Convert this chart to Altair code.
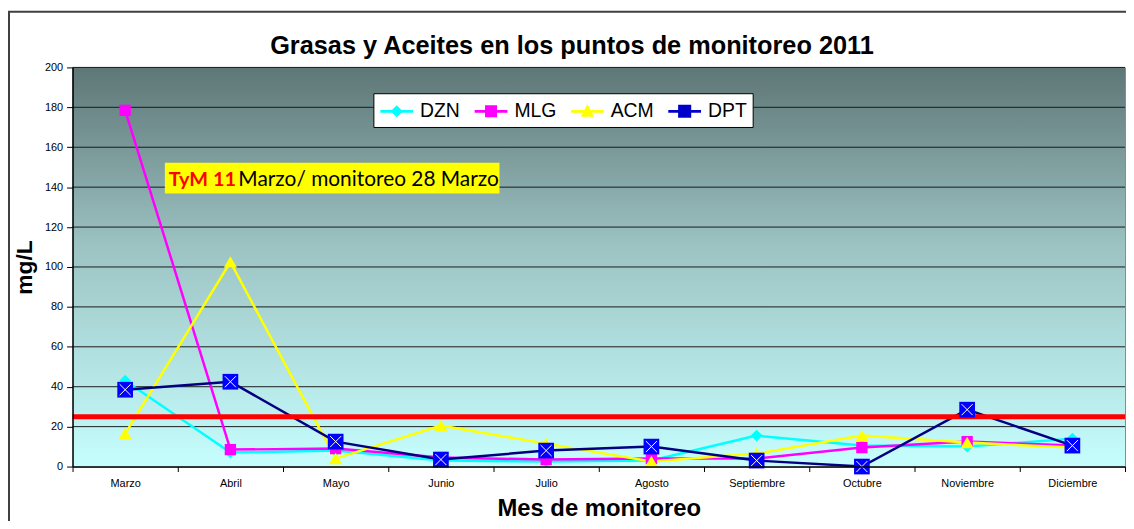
import altair as alt
import pandas as pd

# ---------------- data ----------------
months = ["Marzo", "Abril", "Mayo", "Junio", "Julio", "Agosto",
          "Septiembre", "Octubre", "Noviembre", "Diciembre"]
series_names = ["DZN", "MLG", "ACM", "DPT"]
dzn = [43, 7, 8, 3, 2.5, 3, 15.5, 10.5, 10, 14]
mlg = [178.5, 8.5, 9, 4.5, 3.5, 4, 4, 9.5, 12.5, 10.5]
acm = [16.5, 102.5, 4, 20.5, 11.5, 2.5, 6.5, 15.5, 12, 9.5]
dpt = [38.5, 42.5, 12.5, 3.5, 8, 10, 3, 0, 28.5, 10.5]
limit_value = [25]

y_ticks = list(range(0, 201, 20))
title_text = "Grasas y Aceites en los puntos de monitoreo 2011"
note_bold = "TyM 11"
note_rest = "Marzo/ monitoreo 28 Marzo"

# ---------------- styles ----------------
line_colors = ["#00FFFF", "#FF00FF", "#FFFF00", "#000080"]
marker_fills = ["#00FFFF", "#FF00FF", "#FFFF00", "#0000FF"]
legend_colors = ["#00FFFF", "#FF00FF", "#FFFF00", "#0000C8"]
marker_shapes = ["diamond", "square", "triangle-up", "square"]
marker_sizes = [140, 130, 180, 250]

LINE = "M-1,-0.13L2,-0.13L2,0.13L-1,0.13Z"
legend_paths = [
    LINE + "M0.5,-0.55L1.05,0L0.5,0.55L-0.05,0Z",
    LINE + "M-0.05,-0.55L1.05,-0.55L1.05,0.55L-0.05,0.55Z",
    LINE + "M0.5,-0.65L1.1,0.5L-0.1,0.5Z",
    LINE + "M-0.1,-0.6L1.1,-0.6L1.1,0.6L-0.1,0.6Z",
]

W, H = 1060, 402

rows = []
for name, vals in zip(series_names, [dzn, mlg, acm, dpt]):
    for m, v in zip(months, vals):
        rows.append({"Mes": m, "Serie": name, "Valor": v})
df = pd.DataFrame(rows)
one = pd.DataFrame({"k": [0]})

x_enc = alt.X(
    "Mes:N", sort=months, bandPosition=0.5,
    scale=alt.Scale(type="band", domain=months, paddingInner=0, paddingOuter=0),
    axis=alt.Axis(title="Mes de monitoreo", labelAngle=0, tickBand="extent",
                  labelFont="Liberation Sans", labelFontSize=11, labelColor="black",
                  labelPadding=6, tickSize=5, tickColor="black",
                  domainColor="black", domainWidth=1.5, grid=False, zindex=1,
                  titleFont="Liberation Sans", titleFontSize=24, titleFontWeight="bold",
                  titleColor="black", titleBaseline="alphabetic", titleY=49),
)
y_enc = alt.Y(
    "Valor:Q",
    scale=alt.Scale(domain=[0, 200], nice=False, zero=True),
    axis=alt.Axis(title="mg/L", values=y_ticks, labelFont="Liberation Sans",
                  labelFontSize=11, labelColor="black", labelPadding=4,
                  tickSize=6, tickColor="black", domainColor="black", domainWidth=1.5,
                  grid=False, zindex=1,
                  titleFont="Liberation Sans", titleFontSize=23, titleFontWeight="bold",
                  titleColor="black", titleBaseline="alphabetic", titleX=-41, titleY=201),
)

background = alt.Chart(one).mark_rect(
    color=alt.LinearGradient(
        gradient="linear", x1=0, x2=0, y1=0, y2=1,
        stops=[alt.GradientStop(color="#5e7676", offset=0),
               alt.GradientStop(color="#9dc3c3", offset=0.45),
               alt.GradientStop(color="#c6fefe", offset=1)],
    )
).encode(x=alt.value(0), x2=alt.value(W), y=alt.value(0), y2=alt.value(H))

frame = alt.Chart(one).mark_rect(fillOpacity=0, stroke="#404040", strokeWidth=2).encode(
    x=alt.value(-64), x2=alt.value(1100), y=alt.value(-56), y2=alt.value(500))

grid = alt.Chart(pd.DataFrame({"g": y_ticks[1:]})).mark_rule(
    color="#1a1a1a", strokeWidth=1).encode(
    y=alt.Y("g:Q"), x=alt.value(0), x2=alt.value(W))

line_layers = []
for name, col in zip(series_names, line_colors):
    line_layers.append(
        alt.Chart(df).transform_filter(alt.datum.Serie == name).mark_line(
            strokeWidth=2.5, color=col
        ).encode(x=x_enc, y=y_enc)
    )

limit = alt.Chart(pd.DataFrame({"lim": limit_value})).mark_rule(
    color="#FF0000", strokeWidth=5).encode(
    y=alt.Y("lim:Q"), x=alt.value(0), x2=alt.value(W))

point_layers = []
for name, shp, fill, size in zip(series_names, marker_shapes, marker_fills, marker_sizes):
    point_layers.append(
        alt.Chart(df).transform_filter(alt.datum.Serie == name).mark_point(
            shape=shp, filled=True, fill=fill, size=size, opacity=1, strokeWidth=0
        ).encode(x=x_enc, y=y_enc)
    )

dpt_cross = alt.Chart(df).transform_filter(alt.datum.Serie == "DPT").mark_point(
    shape="M-0.7,-0.7L0.7,0.7M-0.7,0.7L0.7,-0.7", filled=False, stroke="white",
    strokeWidth=1, size=250, opacity=1
).encode(x=x_enc, y=y_enc)

leg = alt.Legend(title=None, orient="none", legendX=303, legendY=26,
                 direction="horizontal", fillColor="white", strokeColor="black",
                 padding=6, symbolSize=484, symbolOpacity=1,
                 labelFont="Liberation Sans", labelFontSize=19.5, labelColor="black",
                 labelOffset=17, columnPadding=11, zindex=2)

# legend-only layer: its marks sit far outside the canvas, only the legend shows
legend_layer = alt.Chart(pd.DataFrame({"Serie": series_names})).mark_point(
    filled=True, size=484, opacity=1
).encode(
    x=alt.value(-3000), y=alt.value(-3000),
    color=alt.Color("Serie:N", scale=alt.Scale(domain=series_names, range=legend_colors), legend=leg),
    shape=alt.Shape("Serie:N", scale=alt.Scale(domain=series_names, range=legend_paths), legend=leg),
)

note_box = alt.Chart(one).mark_rect(color="#FFFF00").encode(
    x=alt.value(93), x2=alt.value(430), y=alt.value(96), y2=alt.value(127))
note_a = alt.Chart(pd.DataFrame({"t": [note_bold]})).mark_text(
    font="Lato", fontSize=20, fontWeight="bold", color="#FF0000", align="left",
    baseline="alphabetic").encode(text="t:N", x=alt.value(97), y=alt.value(119))
note_b = alt.Chart(pd.DataFrame({"t": [note_rest]})).mark_text(
    font="Lato", fontSize=21, color="black", align="left",
    baseline="alphabetic").encode(text="t:N", x=alt.value(167), y=alt.value(119))

title = alt.Chart(pd.DataFrame({"t": [title_text]})).mark_text(
    font="Liberation Sans", fontSize=25.5, fontWeight="bold", color="black",
    align="center", baseline="alphabetic").encode(
    text="t:N", x=alt.value(503), y=alt.value(-14))

chart = alt.layer(
    frame, background, grid, *line_layers, limit, *point_layers, dpt_cross,
    note_box, note_a, note_b, legend_layer, title
).properties(
    width=W, height=H,
    autosize=alt.AutoSizeParams(type="none"),
    padding={"left": 65, "top": 58, "right": 1, "bottom": 53},
    background="white",
).configure_view(stroke="#8a8a8a", strokeWidth=1)

chart.save("out.html", embed_options={"renderer": "svg", "actions": False})
